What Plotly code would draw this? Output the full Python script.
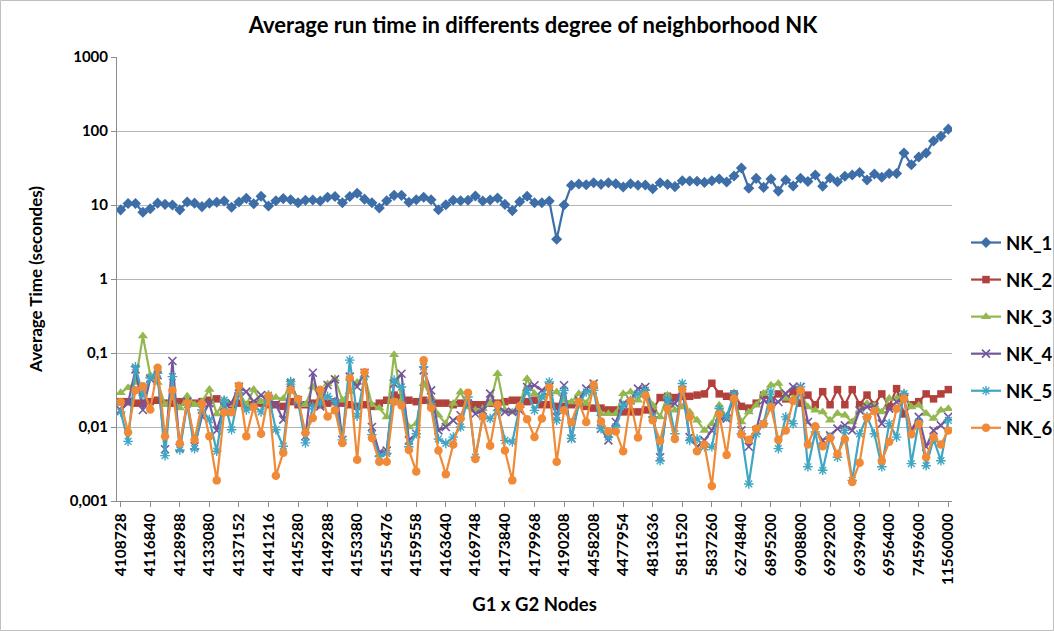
import plotly.graph_objects as go

# Tick labels shown on the category axis (every 4th instance)
tick_labels = ["4108728", "4116840", "4128988", "4133080", "4137152", "4141216",
               "4145280", "4149288", "4153380", "4155476", "4159558", "4163640",
               "4169748", "4173840", "4179968", "4190208", "4458208", "4477954",
               "4813636", "5811520", "5837260", "6274840", "6895200", "6908800",
               "6929200", "6939400", "6956400", "7459600", "11560000"]

# Average run time (seconds) per instance, one list per neighborhood degree
nk_1 = [8.6, 10.5, 10.5, 8.0, 8.9, 10.6, 10.2, 10.0, 8.6, 11.0,
        10.6, 9.5, 10.6, 10.9, 11.3, 9.3, 11.0, 12.3, 10.4, 13.1,
        9.7, 11.4, 12.2, 11.8, 10.7, 11.6, 11.7, 11.3, 12.7, 13.0,
        10.7, 13.0, 14.4, 12.0, 10.7, 9.1, 11.4, 13.5, 13.5, 10.9,
        11.8, 12.7, 11.8, 8.65, 10.1, 11.6, 11.4, 11.6, 13.2, 11.3,
        11.7, 12.4, 10.2, 8.4, 11.1, 13.1, 10.7, 10.7, 11.3, 3.45,
        10.0, 18.5, 19.2, 18.8, 20.0, 19.0, 20.0, 19.4, 17.5, 19.4,
        18.5, 18.6, 16.6, 20.0, 19.0, 17.7, 21.3, 21.1, 20.9, 20.2,
        21.3, 22.5, 20.4, 24.6, 31.6, 16.8, 22.9, 17.3, 22.5, 15.4,
        21.8, 18.1, 23.0, 20.8, 25.5, 17.9, 23.2, 20.6, 24.5, 25.5,
        27.5, 21.8, 26.3, 23.7, 26.6, 26.6, 50.3, 34.9, 44.4, 50.3,
        73.2, 84.6, 106]

nk_2 = [0.022, 0.022, 0.021, 0.021, 0.022, 0.023, 0.021, 0.021, 0.022, 0.022,
        0.021, 0.022, 0.023, 0.024, 0.021, 0.020, 0.021, 0.020, 0.020, 0.021,
        0.020, 0.020, 0.019, 0.022, 0.020, 0.020, 0.021, 0.020, 0.021, 0.022,
        0.021, 0.020, 0.019, 0.020, 0.019, 0.021, 0.023, 0.027, 0.025, 0.023,
        0.022, 0.023, 0.022, 0.021, 0.021, 0.020, 0.021, 0.021, 0.020, 0.020,
        0.021, 0.021, 0.022, 0.023, 0.023, 0.022, 0.023, 0.020, 0.020, 0.019,
        0.019, 0.020, 0.021, 0.019, 0.018, 0.018, 0.017, 0.017, 0.016, 0.016,
        0.016, 0.017, 0.017, 0.025, 0.026, 0.025, 0.026, 0.026, 0.027, 0.028,
        0.039, 0.028, 0.026, 0.028, 0.019, 0.018, 0.021, 0.027, 0.023, 0.028,
        0.024, 0.030, 0.021, 0.027, 0.020, 0.030, 0.020, 0.032, 0.020, 0.032,
        0.020, 0.027, 0.020, 0.028, 0.019, 0.033, 0.015, 0.020, 0.022, 0.028,
        0.024, 0.028, 0.032]

nk_3 = [0.029, 0.034, 0.040, 0.170, 0.050, 0.040, 0.020, 0.025, 0.018, 0.026,
        0.020, 0.022, 0.032, 0.015, 0.023, 0.020, 0.030, 0.020, 0.032, 0.022,
        0.022, 0.025, 0.024, 0.040, 0.022, 0.020, 0.035, 0.025, 0.038, 0.045,
        0.023, 0.030, 0.040, 0.050, 0.020, 0.018, 0.0136, 0.095, 0.0229, 0.0100,
        0.0111, 0.0385, 0.0254, 0.0144, 0.0111, 0.0207, 0.0297, 0.0186, 0.0168, 0.0177,
        0.0207, 0.0525, 0.0168, 0.0160, 0.0196, 0.045, 0.0282, 0.0254, 0.0282, 0.0297,
        0.0229, 0.0218, 0.0282, 0.0207, 0.0347, 0.0151, 0.0151, 0.0151, 0.0282, 0.0297,
        0.0229, 0.033, 0.0196, 0.0137, 0.0269, 0.0168, 0.0187, 0.0160, 0.0123, 0.0090,
        0.0111, 0.0197, 0.0137, 0.0242, 0.0117, 0.0160, 0.0197, 0.0283, 0.0368, 0.0387,
        0.0242, 0.0242, 0.0283, 0.0187, 0.0168, 0.0160, 0.0123, 0.0152, 0.0144, 0.0117,
        0.0168, 0.0207, 0.0197, 0.0160, 0.0242, 0.0242, 0.0283, 0.0187, 0.0197, 0.0152,
        0.0130, 0.0168, 0.0177]

nk_4 = [0.017, 0.021, 0.060, 0.017, 0.045, 0.050, 0.005, 0.078, 0.0052, 0.022,
        0.0055, 0.014, 0.021, 0.009, 0.019, 0.021, 0.035, 0.030, 0.022, 0.027,
        0.023, 0.020, 0.0126, 0.039, 0.023, 0.0075, 0.054, 0.019, 0.037, 0.044,
        0.0067, 0.048, 0.035, 0.054, 0.010, 0.0045, 0.0048, 0.0385, 0.0525, 0.0066,
        0.0081, 0.0583, 0.0313, 0.0090, 0.0100, 0.0123, 0.0144, 0.0207, 0.0151, 0.0168,
        0.0282, 0.0186, 0.0160, 0.0160, 0.0168, 0.0347, 0.0366, 0.0313, 0.0347, 0.0137,
        0.0366, 0.0070, 0.0229, 0.033, 0.0385, 0.0095, 0.0066, 0.0117, 0.0207, 0.0229,
        0.033, 0.0347, 0.0151, 0.0039, 0.0207, 0.0207, 0.0315, 0.0073, 0.0054, 0.0066,
        0.0090, 0.0137, 0.0130, 0.0255, 0.0090, 0.0054, 0.0090, 0.0230, 0.0207, 0.0218,
        0.0283, 0.0349, 0.0349, 0.0117, 0.0090, 0.0066, 0.0077, 0.0095, 0.0105, 0.0090,
        0.0168, 0.0187, 0.0187, 0.0111, 0.0177, 0.0218, 0.0242, 0.0090, 0.0137, 0.0054,
        0.0090, 0.0105, 0.0137]

nk_5 = [0.016, 0.0064, 0.065, 0.027, 0.046, 0.053, 0.0041, 0.048, 0.0049, 0.020,
        0.0051, 0.017, 0.0126, 0.0047, 0.023, 0.0092, 0.029, 0.017, 0.019, 0.016,
        0.027, 0.0092, 0.0055, 0.041, 0.022, 0.0061, 0.019, 0.021, 0.026, 0.022,
        0.0067, 0.080, 0.014, 0.048, 0.0079, 0.0040, 0.0044, 0.043, 0.0347, 0.0054,
        0.0081, 0.065, 0.0207, 0.0069, 0.0060, 0.0073, 0.0100, 0.0254, 0.0039, 0.0137,
        0.0130, 0.0168, 0.0066, 0.0063, 0.0186, 0.0313, 0.0168, 0.0254, 0.0406, 0.0123,
        0.0313, 0.0070, 0.0207, 0.0297, 0.0313, 0.0095, 0.0073, 0.0100, 0.0196, 0.0229,
        0.0282, 0.0313, 0.0137, 0.0035, 0.0242, 0.0081, 0.0387, 0.0066, 0.0069, 0.0054,
        0.0054, 0.0177, 0.0137, 0.0283, 0.0081, 0.0017, 0.0081, 0.0111, 0.0298, 0.0051,
        0.0137, 0.0111, 0.0349, 0.0029, 0.0086, 0.0026, 0.0073, 0.0039, 0.0090, 0.0019,
        0.0081, 0.0137, 0.0081, 0.0029, 0.0111, 0.0073, 0.0283, 0.0032, 0.0117, 0.0030,
        0.0069, 0.0035, 0.0123]

nk_6 = [0.0218, 0.0085, 0.0313, 0.0354, 0.0172, 0.063, 0.0075, 0.0313, 0.0060, 0.0211,
        0.0067, 0.0204, 0.0075, 0.0019, 0.0158, 0.0158, 0.0362, 0.0075, 0.0186, 0.0081,
        0.0265, 0.0022, 0.0045, 0.0319, 0.0239, 0.0083, 0.0132, 0.0319, 0.0139, 0.0168,
        0.0061, 0.0459, 0.0036, 0.0548, 0.0071, 0.0034, 0.0034, 0.0220, 0.0196, 0.0049,
        0.0025, 0.080, 0.0182, 0.0048, 0.0023, 0.0058, 0.0130, 0.0291, 0.0037, 0.0139,
        0.0056, 0.020, 0.0048, 0.0019, 0.019, 0.0127, 0.0073, 0.0130, 0.0347, 0.0034,
        0.0168, 0.0116, 0.0218, 0.0117, 0.0373, 0.0119, 0.0087, 0.0087, 0.0047, 0.0224,
        0.0072, 0.0268, 0.0123, 0.0065, 0.0177, 0.0069, 0.032, 0.0137, 0.0047, 0.0058,
        0.0016, 0.0149, 0.0042, 0.0242, 0.0079, 0.0067, 0.0095, 0.011, 0.0187, 0.0067,
        0.0090, 0.0225, 0.0314, 0.0058, 0.0102, 0.0055, 0.0071, 0.0043, 0.0069, 0.0018,
        0.0033, 0.0134, 0.0165, 0.0035, 0.0063, 0.0177, 0.0242, 0.0080, 0.011, 0.0039,
        0.0073, 0.0058, 0.0090]

y_ticks = [0.001, 0.01, 0.1, 1, 10, 100, 1000]
y_tick_text = ["0,001", "0,01", "0,1", "1", "10", "100", "1000"]

W, H = 1054, 631
ML, MR, MT, MB = 117, 102, 57, 130
PW, PH = W - ML - MR, H - MT - MB
FONT = "Lato, 'Open Sans', sans-serif"


def px_x(px):
    """Horizontal pixel position -> paper coordinate."""
    return (px - ML) / PW


def px_y(py):
    """Vertical pixel position (from top) -> paper coordinate."""
    return (H - MB - py) / PH


x = list(range(len(nk_1)))

series = [
    ("NK_1", nk_1, "#3d6ea8", dict(symbol="diamond", size=8.5)),
    ("NK_2", nk_2, "#b2403c", dict(symbol="square", size=7.5)),
    ("NK_3", nk_3, "#92b84f", dict(symbol="triangle-up", size=9)),
    ("NK_4", nk_4, "#74569b", dict(symbol="x-thin-open", size=8), 1.6),
    ("NK_5", nk_5, "#3fa6c3", dict(symbol="asterisk-open", size=8), 1.4),
    ("NK_6", nk_6, "#f08a36", dict(symbol="circle", size=8.5)),
]

fig = go.Figure()
for item in series:
    name, ys, color, mk = item[:4]
    marker = dict(color=color, **mk)
    if len(item) > 4:
        marker["line"] = dict(color=color, width=item[4])
    fig.add_trace(go.Scatter(
        x=x, y=ys, name=name, mode="lines+markers",
        line=dict(color=color, width=2.2),
        marker=marker, legendgroup=name,
    ))

# light frame around the whole chart
fig.add_shape(type="rect", xref="paper", yref="paper",
              x0=px_x(0.5), x1=px_x(W - 0.5), y0=px_y(H - 0.5), y1=px_y(0.5),
              line=dict(color="#bfbfbf", width=1), layer="below")

bold = dict(family=FONT, weight="bold", color="#000000")

fig.update_layout(
    width=W, height=H,
    margin=dict(l=ML, r=MR, t=MT, b=MB, autoexpand=False),
    paper_bgcolor="white", plot_bgcolor="white",
    font=dict(family=FONT, color="#000000"),
    title=dict(text="Average run time in differents degree of neighborhood NK",
               x=533 / W, xanchor="center", y=1 - 25 / H, yanchor="middle",
               font=dict(size=22, **bold)),
    showlegend=True,
    legend=dict(x=px_x(966), xanchor="left", y=px_y(224), yanchor="top",
                font=dict(size=18.5, **bold), tracegroupgap=10,
                bgcolor="rgba(0,0,0,0)", itemwidth=30),
    xaxis=dict(
        range=[-0.5, len(x) - 0.5],
        tickmode="array", tickvals=x[::4], ticktext=tick_labels,
        tickangle=-90, tickfont=dict(size=15.5, **bold),
        showgrid=False, zeroline=False,
        showline=True, linecolor="#8c8c8c", linewidth=1,
        ticks="outside", ticklen=5, tickcolor="#8c8c8c",
        title=dict(text="G1 x G2 Nodes", font=dict(size=18.5, **bold), standoff=13),
    ),
    yaxis=dict(
        type="log", range=[-3, 3],
        tickmode="array", tickvals=y_ticks, ticktext=y_tick_text,
        tickfont=dict(size=15, **bold),
        showgrid=True, gridcolor="#b5b5b5", gridwidth=1,
        zeroline=False,
        showline=True, linecolor="#8c8c8c", linewidth=1,
        ticks="outside", ticklen=5, tickcolor="#8c8c8c",
        title=dict(text="Average Time (secondes)", font=dict(size=17, **bold), standoff=22),
    ),
)

fig.write_html("out.html")
